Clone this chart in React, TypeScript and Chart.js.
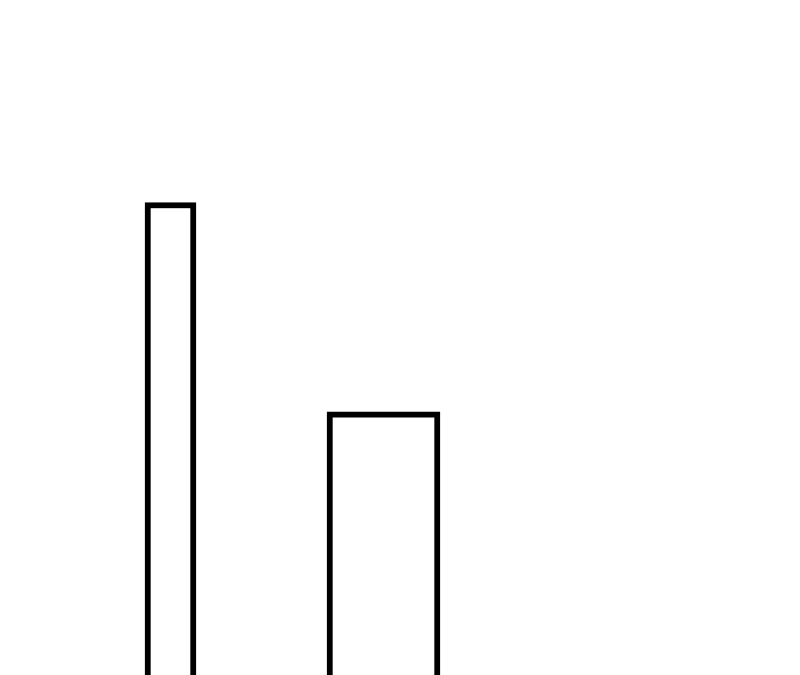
import React, { useEffect, useRef } from 'react';
import { Chart, registerables } from 'chart.js';

Chart.register(...registerables);

// categories and values (y scale 0..100, bars run off the bottom)
const categories = ['A', 'B'];
const narrowValues = [70, null];
const wideValues = [null, 39];

const App = () => {
    const chartRef = useRef(null);
    const chartInstanceRef = useRef(null);

    useEffect(() => {
        if (!chartRef.current) return;
        const ctx = chartRef.current.getContext('2d');
        if (!ctx) return;

        if (chartInstanceRef.current) {
            chartInstanceRef.current.destroy();
        }

        const outline = {
            backgroundColor: '#ffffff',
            borderColor: '#000000',
            borderWidth: 6,
            grouped: false,
        };

        chartInstanceRef.current = new Chart(ctx, {
            type: 'bar',
            data: {
                labels: categories,
                datasets: [
                    { ...outline, label: 'narrow', data: narrowValues, barThickness: 51 },
                    { ...outline, label: 'wide', data: wideValues, barThickness: 113 },
                ],
            },
            options: {
                animation: false,
                responsive: true,
                maintainAspectRatio: false,
                layout: { padding: { left: 64, right: 310, top: 0, bottom: 0 } },
                scales: {
                    x: { display: false, offset: true },
                    y: { display: false, min: 0, max: 100 },
                },
                plugins: {
                    legend: { display: false },
                    tooltip: { enabled: false },
                },
            },
        });

        return () => {
            if (chartInstanceRef.current) {
                chartInstanceRef.current.destroy();
                chartInstanceRef.current = null;
            }
        };
    }, []);

    return (
        <div style={{ position: 'absolute', left: 0, top: 0, width: '800px', height: '675px', background: '#fff' }}>
            <canvas ref={chartRef} />
        </div>
    );
};

export default App;
